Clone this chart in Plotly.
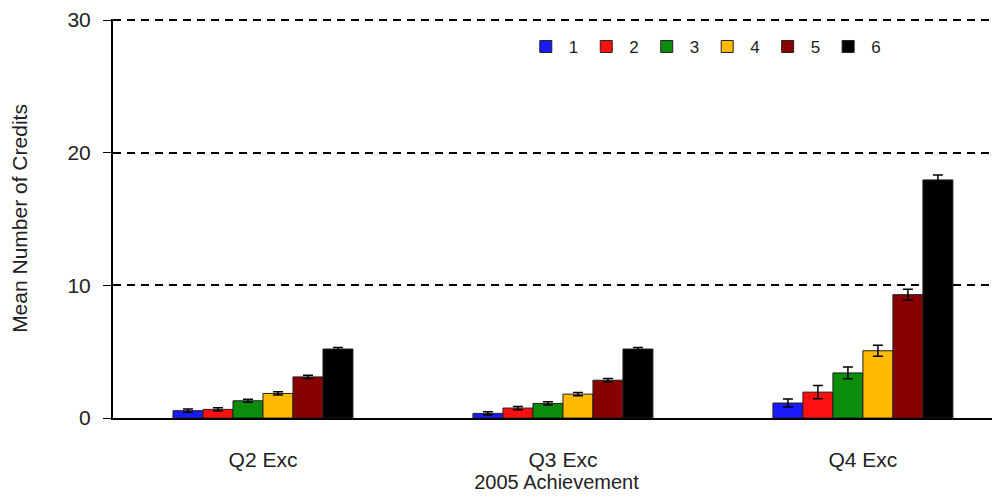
import plotly.graph_objects as go

categories = ["Q2 Exc", "Q3 Exc", "Q4 Exc"]
series_names = ["1", "2", "3", "4", "5", "6"]
s1 = [0.55, 0.35, 1.13]
s2 = [0.65, 0.75, 1.95]
s3 = [1.3, 1.1, 3.4]
s4 = [1.85, 1.8, 5.07]
s5 = [3.1, 2.85, 9.3]
s6 = [5.2, 5.2, 17.95]
e1 = [0.12, 0.12, 0.3]
e2 = [0.12, 0.12, 0.5]
e3 = [0.12, 0.12, 0.45]
e4 = [0.12, 0.12, 0.42]
e5 = [0.12, 0.12, 0.4]
e6 = [0.12, 0.12, 0.37]
colors = ["#1a1aff", "#ff1010", "#0b8c0b", "#ffbb00", "#880000", "#000000"]

values = [s1, s2, s3, s4, s5, s6]
errors = [e1, e2, e3, e4, e5, e6]

fig = go.Figure()
for name, v, e, c in zip(series_names, values, errors, colors):
    fig.add_trace(go.Bar(
        x=categories, y=v, name=name,
        marker=dict(color=c, line=dict(color="#222222", width=1)),
        error_y=dict(type="data", array=e, visible=True, color="#000000",
                     thickness=1.5, width=5),
    ))

# page body has an 8px margin; margins compensate so the plot lands where the reference has it
fig.update_layout(
    barmode="group", bargap=0.4, bargroupgap=0,
    width=1000, height=496,
    margin=dict(l=105, r=8, t=11, b=86, autoexpand=False),
    plot_bgcolor="white", paper_bgcolor="white",
    font=dict(family="Liberation Sans, Arial, sans-serif", size=20, color="#222222"),
    showlegend=True,
    legend=dict(orientation="h", x=0.462, y=0.93, xanchor="left", yanchor="middle",
                font=dict(size=17), bgcolor="rgba(0,0,0,0)", itemwidth=36,
                tracegroupgap=0),
    xaxis=dict(range=[-0.5, 2.457], showline=True, linecolor="black", linewidth=2,
               ticks="outside", ticklen=22, tickcolor="rgba(0,0,0,0)",
               showgrid=False, tickfont=dict(size=21), automargin=False,
               title=dict(text="2005 Achievement", font=dict(size=20), standoff=4)),
    yaxis=dict(range=[0, 30.08], tickvals=[0, 10, 20, 30], showline=True,
               linecolor="black", linewidth=2, ticks="outside", ticklen=8,
               tickcolor="black", tickwidth=1, showgrid=True, gridcolor="black",
               gridwidth=1.6, griddash="8px,6px", zeroline=False,
               tickfont=dict(size=21), automargin=False, ticklabelstandoff=8,
               title=dict(text="Mean Number of Credits", font=dict(size=21), standoff=50)),
)

fig.write_html("out.html")
